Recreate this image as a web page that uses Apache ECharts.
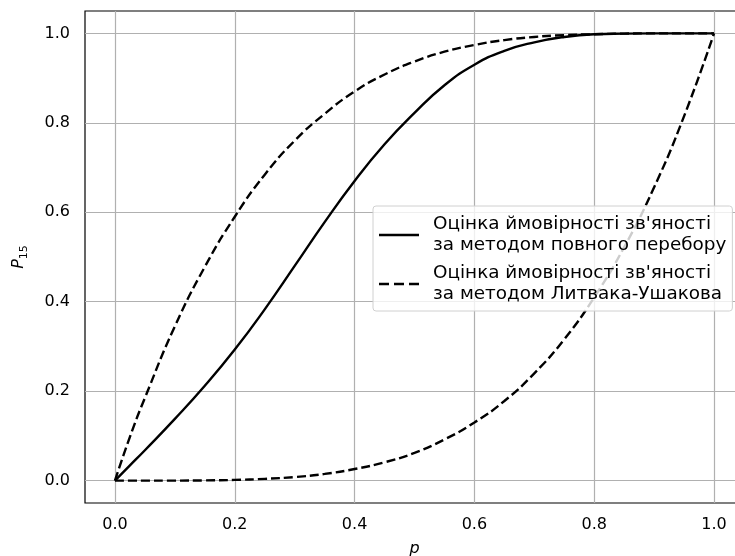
<!DOCTYPE html>
<html lang="uk">
<head>
  <meta charset="UTF-8">
  <title>P15</title>
  <script src="https://cdn.jsdelivr.net/npm/echarts@6.0.0/dist/echarts.min.js"></script>
  <style>
    html, body { margin: 0; padding: 0; background: #fff; }
    #chart { width: 735px; height: 556px; }
  </style>
</head>
<body>
  <div id="chart"></div>
<script>
  // p values (x axis)
  const pValues = [0, 0.025, 0.05, 0.1, 0.15, 0.2, 0.25, 0.3, 0.35, 0.4, 0.45, 0.5,
    0.55, 0.6, 0.65, 0.7, 0.75, 0.8, 0.85, 0.9, 0.95, 1.0];
  // full enumeration estimate
  const fullSearch = [0, 0.034, 0.068, 0.138, 0.212, 0.293, 0.383, 0.48, 0.578, 0.67, 0.752, 0.822,
    0.884, 0.93, 0.961, 0.98, 0.992, 0.998, 0.9995, 1.0, 1.0, 1.0];
  // Litvak-Ushakov upper bound
  const luUpper = [0, 0.098, 0.185, 0.345, 0.478, 0.59, 0.684, 0.76, 0.82, 0.87, 0.908, 0.937,
    0.959, 0.974, 0.985, 0.992, 0.996, 0.998, 0.9995, 1.0, 1.0, 1.0];
  // Litvak-Ushakov lower bound
  const luLower = [0, 0, 0, 0.0001, 0.0005, 0.0016, 0.004, 0.008, 0.015, 0.026, 0.041, 0.062,
    0.092, 0.13, 0.178, 0.24, 0.316, 0.41, 0.522, 0.656, 0.815, 1.0];

  const xTicks = [0, 0.2, 0.4, 0.6, 0.8, 1.0];
  const yTicks = [0, 0.2, 0.4, 0.6, 0.8, 1.0];

  const nameFull = "Оцінка ймовірності зв'яності\nза методом повного перебору";
  const nameLU = "Оцінка ймовірності зв'яності\nза методом Литвака-Ушакова";

  const font = 'DejaVu Sans';
  const pairs = ys => pValues.map((x, i) => [x, ys[i]]);
  const dash = [9, 4];
  const lw = 2.4;

  const chart = echarts.init(document.getElementById('chart'));
  chart.setOption({
    animation: false,
    textStyle: { fontFamily: font },
    grid: {
      left: 85, right: -9, top: 11, bottom: 53,
      outerBoundsMode: 'none', containLabel: false,
      show: true, borderColor: '#000', borderWidth: 1.2, backgroundColor: 'transparent'
    },
    legend: {
      orient: 'vertical',
      left: 373, top: 206,
      padding: [8, 6, 6, 6],
      itemWidth: 40, itemHeight: lw, itemGap: 7,
      backgroundColor: 'rgba(255,255,255,0.8)',
      borderColor: '#d0d0d0', borderWidth: 1, borderRadius: 3,
      itemStyle: { color: '#000' },
      textStyle: { fontFamily: font, fontSize: 18.4, color: '#000', lineHeight: 21, padding: [0, 0, 0, 9] },
      data: [
        { name: nameFull, icon: 'path://M0,0H40V2.4H0Z' },
        { name: nameLU, icon: 'path://M0,0H10V2.4H0Z M15,0H25V2.4H15Z M30,0H40V2.4H30Z' }
      ]
    },
    xAxis: {
      type: 'value', min: -0.05, max: 1.05,
      name: 'p', nameLocation: 'middle', nameGap: 38,
      nameTextStyle: { fontFamily: font, fontSize: 16, fontStyle: 'italic', color: '#000' },
      axisLine: { show: false },
      axisTick: { show: true, customValues: xTicks, length: 6, lineStyle: { color: '#000' } },
      axisLabel: {
        customValues: xTicks, margin: 14, fontSize: 16, color: '#000',
        formatter: v => v.toFixed(1)
      },
      splitLine: { show: false }
    },
    yAxis: {
      type: 'value', min: -0.05, max: 1.05,
      name: '{i|P}{s|15}', nameLocation: 'middle', nameGap: 55, nameRotate: 90,
      nameTextStyle: {
        rich: {
          i: { fontFamily: font, fontSize: 16, fontStyle: 'italic', color: '#000', lineHeight: 22 },
          s: { fontFamily: font, fontSize: 11, color: '#000', verticalAlign: 'bottom', lineHeight: 14 }
        }
      },
      axisLine: { show: false },
      axisTick: { show: true, customValues: yTicks, length: 6, lineStyle: { color: '#000' } },
      axisLabel: {
        customValues: yTicks, margin: 15, fontSize: 16, color: '#000',
        formatter: v => v.toFixed(1)
      },
      splitLine: { show: false }
    },
    series: [
      {
        name: nameFull, type: 'line', symbol: 'none', smooth: 0.5,
        data: pairs(fullSearch),
        lineStyle: { color: '#000', width: lw },
        itemStyle: { color: '#000' },
        z: 3,
        markLine: {
          silent: true, symbol: 'none', z: 1,
          label: { show: false },
          lineStyle: { color: '#b0b0b0', width: 1.2, type: 'solid' },
          emphasis: { disabled: true },
          data: xTicks.map(v => ({ xAxis: v })).concat(yTicks.map(v => ({ yAxis: v })))
        }
      },
      {
        name: nameLU, type: 'line', symbol: 'none', smooth: 0.5,
        data: pairs(luUpper),
        lineStyle: { color: '#000', width: lw, type: dash },
        itemStyle: { color: '#000' },
        z: 3
      },
      {
        name: nameLU, type: 'line', symbol: 'none', smooth: 0.5,
        data: pairs(luLower),
        lineStyle: { color: '#000', width: lw, type: dash },
        itemStyle: { color: '#000' },
        z: 3
      }
    ]
  });
</script>
</body>
</html>
